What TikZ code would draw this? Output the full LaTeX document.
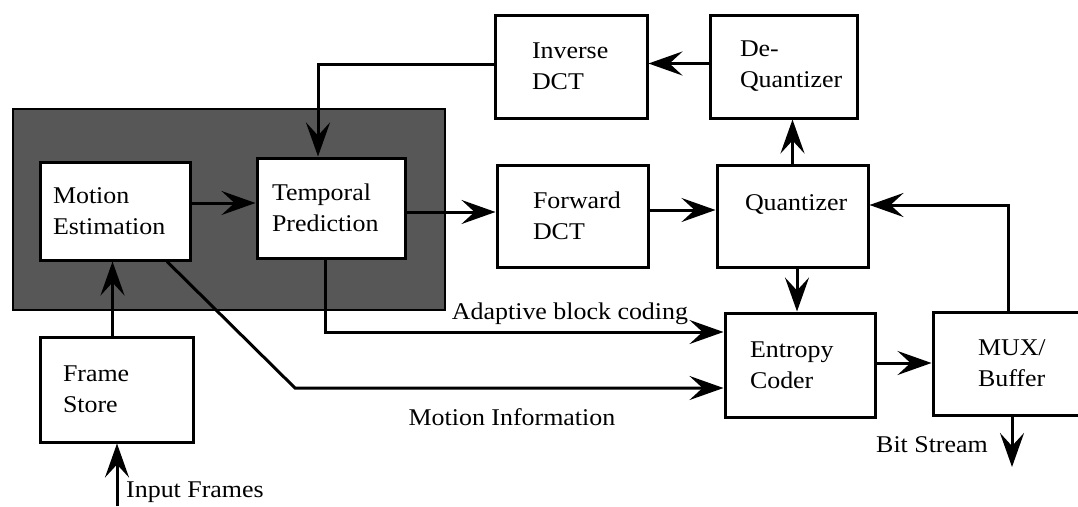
\documentclass[tikz,border=0pt]{standalone}
\usepackage{fontspec}
\setmainfont[FakeStretch=1.08]{Liberation Serif}
\usetikzlibrary{arrows.meta,calc}
\begin{document}
\begin{tikzpicture}[x=1pt,y=-1pt,
  font=\fontsize{24}{31}\selectfont,
  blk/.style={draw, line width=3pt, fill=white, align=left, inner xsep=0pt, inner ysep=0pt},
  arr/.style={line width=3pt, -{Stealth[length=34pt,width=24pt,inset=13pt]}},
  shadebox/.style={draw, line width=2pt, fill=black!66, inner sep=0pt},
  lbl/.style={inner sep=0pt}]
\clip (0,0) rectangle (1078,506);
\fill[white] (0,0) rectangle (1078,506);
% shaded motion compensation region
\node[shadebox, minimum width=432, minimum height=201] (mc) at (229,209.5) {};
% blocks
\node[blk, minimum width=150, minimum height=98, text width=124] (me) at (115,211) {Motion\\Estimation};
\node[blk, minimum width=148, minimum height=100, text width=118] (tp) at (331,208) {Temporal\\Prediction};
\node[blk, minimum width=153, minimum height=105, text width=107] (fs) at (116.5,389.5) {Frame\\Store};
\node[blk, minimum width=152, minimum height=103, text width=78] (idct) at (571,66.5) {Inverse\\DCT};
\node[blk, minimum width=147, minimum height=103, text width=87] (deq) at (783.5,66.5) {De-\\Quantizer};
\node[blk, minimum width=151, minimum height=102, text width=79] (fdct) at (572.5,216) {Forward\\DCT};
\node[blk, minimum width=151, minimum height=102, text width=95, text depth=27pt] (quant) at (792.5,216) {Quantizer};
\node[blk, minimum width=150, minimum height=104, text width=100] (ent) at (800,365) {Entropy\\Coder};
\node[blk, minimum width=167, minimum height=103, text width=77] (mux) at (1016.5,363.5) {MUX/\\Buffer};
% free ends
\coordinate (in) at (117,506);
\coordinate (bend) at (295,388);
\coordinate (bs) at (1012,467);
% connectors
\draw[arr] ([yshift=8pt]me.east) -- ([yshift=8pt]me.east -| tp.west);
\draw[arr] ([yshift=-4pt]tp.east) -- ([yshift=-4pt]tp.east -| fdct.west);
\draw[arr] ([yshift=6pt]fdct.east) -- ([yshift=6pt]fdct.east -| quant.west);
\draw[arr] (quant.north) -- (quant.north |- deq.south);
\draw[arr] ([yshift=3pt]deq.west) -- ([yshift=3pt]deq.west -| idct.east);
\draw[arr] ([yshift=2pt]idct.west) -| ([xshift=-13pt]tp.north);
\draw[arr] ([xshift=-4pt]fs.north) -- ([xshift=-4pt]fs.north |- me.south);
\draw[arr] (in) -- (in |- fs.south);
\draw[arr] ([xshift=52pt]me.south) -- (bend) -- (bend -| ent.west);
\draw[arr] ([xshift=-6pt]tp.south) |- ([yshift=33pt]ent.west);
\draw[arr] ([xshift=4.5pt]quant.south) -- ([xshift=4.5pt]quant.south |- ent.north);
\draw[arr] ([yshift=2pt]ent.east) -- ([yshift=2pt]ent.east -| mux.west);
\draw[arr] ([xshift=-8.5pt]mux.north) |- ([yshift=11pt]quant.east);
\draw[arr] ([xshift=-4.5pt]mux.south) -- (bs);
% labels
\node[lbl] (abc) at (570,314) {Adaptive block coding};
\node[lbl] (mi) at (512,417) {Motion Information};
\node[lbl, anchor=west] (inl) at (126,492) {Input Frames};
\node[lbl, anchor=east] (bsl) at (988,445) {Bit Stream};
\end{tikzpicture}
\end{document}
